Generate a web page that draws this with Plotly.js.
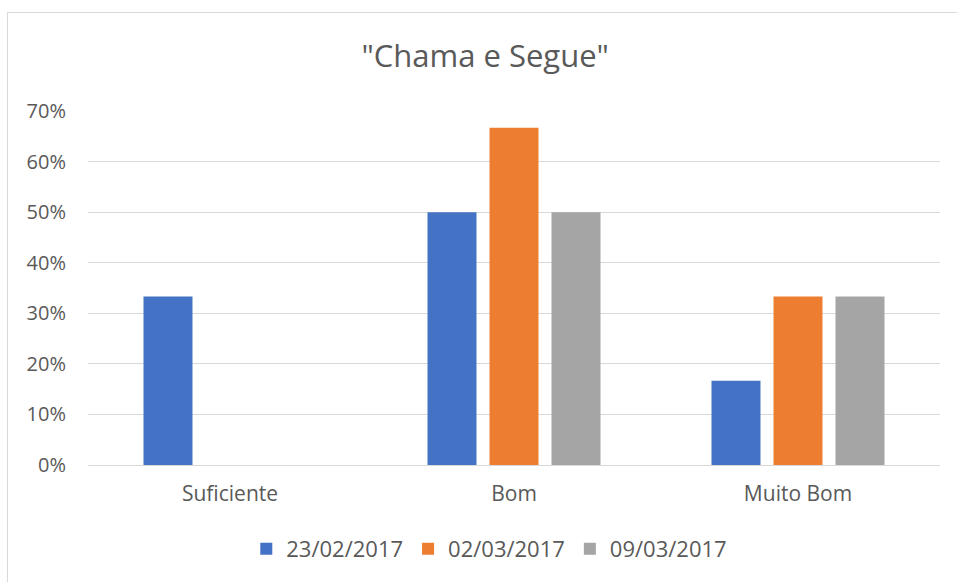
<!DOCTYPE html>
<html>
<head>
<meta charset="utf-8">
<script src="https://cdn.plot.ly/plotly-3.0.1.min.js"></script>
<style>
html,body{margin:0;padding:0;background:#fff;overflow:hidden;}
#chart{position:absolute;left:0;top:0;width:957px;height:582px;}
#frame{position:absolute;left:7px;top:12px;width:1000px;height:700px;border:1px solid #d9d9d9;pointer-events:none;z-index:5;}
</style>
</head>
<body>
<div id="chart"></div>
<div id="frame"></div>
<script>
const categories = ["Suficiente", "Bom", "Muito Bom"];
const seriesNames = ["23/02/2017", "02/03/2017", "09/03/2017"];
const serie1 = [0.3333, 0.5, 0.1667];
const serie2 = [0, 0.6667, 0.3333];
const serie3 = [0, 0.5, 0.3333];
const colors = ["#4472c4", "#ed7d31", "#a5a5a5"];
const yTickVals = [0, 0.1, 0.2, 0.3, 0.4, 0.5, 0.6, 0.7];
const yTickText = ["0%", "10%", "20%", "30%", "40%", "50%", "60%", "70%"];

const font = "'Open Sans', sans-serif";
const data = [serie1, serie2, serie3].map((vals, i) => ({
  type: "bar",
  x: categories,
  y: vals,
  name: seriesNames[i],
  marker: {color: colors[i]},
  hoverinfo: "none"
}));

const layout = {
  width: 957, height: 582,
  paper_bgcolor: "rgba(0,0,0,0)",
  plot_bgcolor: "#fff",
  margin: {l: 88, r: 17, t: 111, b: 117},
  barmode: "group",
  bargap: 0.345,
  bargroupgap: 0.21,
  title: {text: "\"Chama e Segue\"", x: 0.507, xanchor: "center", y: 1 - 56/582, yanchor: "middle",
          font: {family: font, size: 31, color: "#595959"}},
  font: {family: font, color: "#595959"},
  xaxis: {
    showgrid: false, showline: false, zeroline: false, ticks: "",
    tickfont: {size: 21, color: "#595959"},
    ticklabelstandoff: 14
  },
  yaxis: {
    range: [0, 0.7], tickvals: yTickVals, ticktext: yTickText,
    showgrid: true, gridcolor: "#d9d9d9", gridwidth: 1,
    zeroline: true, zerolinecolor: "#d9d9d9", zerolinewidth: 1,
    showline: false, ticks: "",
    tickfont: {size: 20, color: "#595959"},
    ticklabelstandoff: 21
  },
  showlegend: true,
  legend: {
    orientation: "h", x: 0.471, xanchor: "center",
    yref: "container", y: 1 - 549/582, yanchor: "middle",
    font: {size: 22, color: "#595959"},
    itemwidth: 30, traceorder: "normal"
  }
};

Plotly.newPlot("chart", data, layout, {staticPlot: true, displayModeBar: false});
</script>
</body>
</html>
